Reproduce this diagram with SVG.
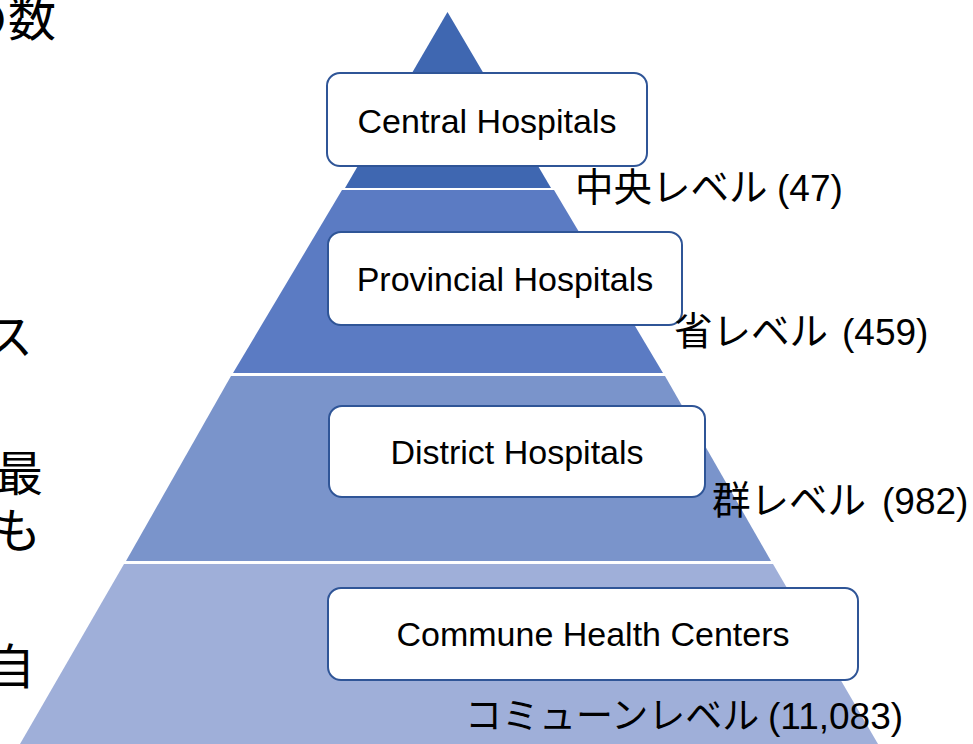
<svg xmlns="http://www.w3.org/2000/svg" width="973" height="744" viewBox="0 0 973 744">
<style>
.jp{font-family:"Noto Sans CJK JP","Noto Sans",sans-serif;fill:#000}
.side{font-size:48px}
.lbl{font-size:38.5px}
.num{font-family:"Liberation Sans",Arial,sans-serif;font-size:37px;fill:#000}
.box{fill:#fff;stroke:#2F5597;stroke-width:2}
.bt{font-family:"Liberation Sans",Arial,sans-serif;font-size:34px;fill:#000;text-anchor:middle}
</style>
<rect width="973" height="744" fill="#fff"/>
<g id="side-text" class="jp side">
<text x="-40" y="36">の数</text>
<text x="-15" y="354">ス</text>
<text x="-5" y="491">最</text>
<text x="-7" y="548">も</text>
<text x="-13" y="684">自</text>
</g>
<g id="pyramid">
<polygon id="layer1" points="447.5,12 551,188 345,188" fill="#3F67B1"/>
<polygon id="layer2" points="342,190 554,190 663,373 233,373" fill="#5B7BC3"/>
<polygon id="layer3" points="231,376 665,376 771,561 126,561" fill="#7A94CB"/>
<polygon id="layer4" points="124,564 773,564 878,744 20,744" fill="#9FAFD9"/>
</g>
<g id="connectors"/>
<g id="central">
<rect class="box" x="327" y="73" width="320" height="93" rx="13"/>
<text class="bt" x="487" y="133">Central Hospitals</text>
</g>
<g id="provincial">
<rect class="box" x="328" y="232" width="354" height="93" rx="13"/>
<text class="bt" x="505" y="291">Provincial Hospitals</text>
</g>
<g id="district">
<rect class="box" x="329" y="406" width="376" height="91" rx="13"/>
<text class="bt" x="517" y="464">District Hospitals</text>
</g>
<g id="commune">
<rect class="box" x="328" y="588" width="530" height="92" rx="13"/>
<text class="bt" x="593" y="646">Commune Health Centers</text>
</g>
<g id="label-central"><text class="jp lbl" x="575" y="201">中央レベル</text><text class="num" x="777" y="201">(47)</text></g>
<g id="label-provincial"><text class="jp lbl" x="674" y="345">省レベル</text><text class="num" x="842" y="345">(459)</text></g>
<g id="label-district"><text class="jp lbl" x="712" y="514">群レベル</text><text class="num" x="882" y="514">(982)</text></g>
<g id="label-commune"><text class="jp lbl" x="465" y="729" style="font-size:37px">コミューンレベル</text><text class="num" x="768" y="729">(11,083)</text></g>
</svg>
